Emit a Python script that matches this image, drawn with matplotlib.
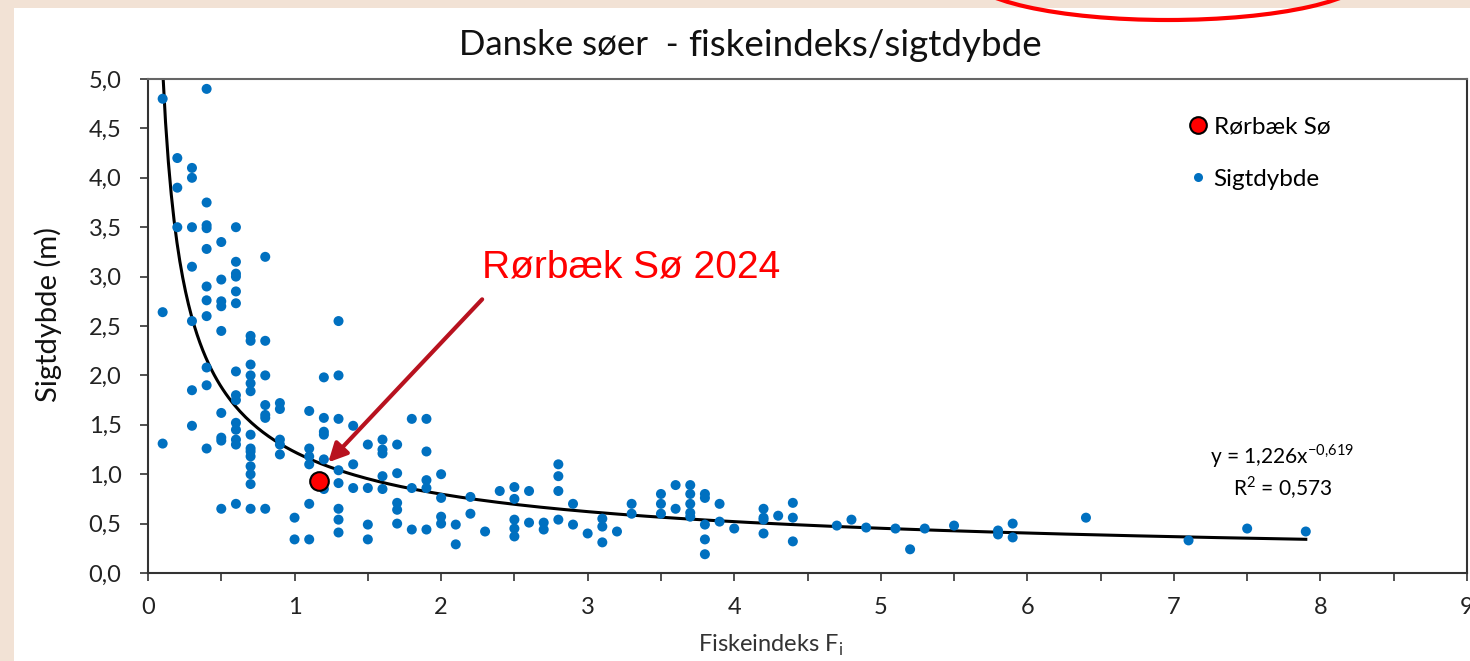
import numpy as np
import matplotlib.pyplot as plt
from matplotlib.patches import Ellipse, Rectangle
from matplotlib.lines import Line2D

# Fiskeindeks (x) og sigtdybde (y) for danske søer
fi_x = ([0.1] * 3 + [0.2] * 3 + [0.3] * 7 + [0.4] * 11 + [0.5] * 9 + [0.6] * 14
        + [0.7] * 14 + [0.8] * 7 + [0.9] * 5 + [1.0] * 2 + [1.1] * 6 + [1.2] * 7
        + [1.3] * 8 + [1.4] * 3 + [1.5] * 4 + [1.6] * 5 + [1.7] * 5 + [1.8] * 3
        + [1.9] * 5 + [2.0] * 4 + [2.1] * 2 + [2.2] * 2 + [2.3] + [2.4] + [2.5] * 5
        + [2.6] * 2 + [2.7] * 2 + [2.8] * 4 + [2.9] * 2 + [3.0] + [3.1] * 3 + [3.2]
        + [3.3] * 2 + [3.5] * 3 + [3.6] * 2 + [3.7] * 5 + [3.8] * 5 + [3.9] * 2
        + [4.0] + [4.2] * 4 + [4.3] + [4.4] * 3 + [4.7] + [4.8] + [4.9] + [5.1]
        + [5.2] + [5.3] + [5.5] + [5.8] * 2 + [5.9] * 2 + [6.4] + [7.1] + [7.5] + [7.9])

sigt_y = [4.8, 2.64, 1.31,
          4.2, 3.9, 3.5,
          4.1, 4.0, 3.5, 3.1, 2.55, 1.85, 1.49,
          4.9, 3.75, 3.52, 3.49, 3.28, 2.9, 2.76, 2.6, 2.08, 1.9, 1.26,
          3.35, 2.97, 2.75, 2.7, 2.45, 1.62, 1.37, 1.34, 0.65,
          3.5, 3.15, 3.03, 3.0, 2.85, 2.73, 2.04, 1.8, 1.75, 1.52, 1.45, 1.35, 1.3, 0.7,
          2.4, 2.35, 2.11, 2.0, 1.92, 1.84, 1.4, 1.26, 1.23, 1.18, 1.08, 1.0, 0.9, 0.65,
          3.2, 2.35, 2.0, 1.7, 1.6, 1.57, 0.65,
          1.72, 1.66, 1.35, 1.3, 1.2,
          0.56, 0.34,
          1.64, 1.26, 1.18, 1.1, 0.7, 0.34,
          1.98, 1.57, 1.43, 1.4, 1.15, 0.91, 0.85,
          2.55, 2.0, 1.56, 1.04, 0.91, 0.65, 0.54, 0.41,
          1.49, 1.1, 0.86,
          1.3, 0.86, 0.49, 0.34,
          1.35, 1.25, 1.21, 0.98, 0.85,
          1.3, 1.01, 0.71, 0.64, 0.5,
          1.56, 0.86, 0.44,
          1.56, 1.23, 0.94, 0.86, 0.44,
          1.0, 0.76, 0.57, 0.5,
          0.49, 0.29,
          0.77, 0.6,
          0.42,
          0.83,
          0.87, 0.75, 0.54, 0.45, 0.37,
          0.83, 0.51,
          0.51, 0.44,
          1.1, 0.98, 0.83, 0.54,
          0.7, 0.49,
          0.4,
          0.55, 0.47, 0.31,
          0.42,
          0.7, 0.6,
          0.8, 0.7, 0.6,
          0.89, 0.65,
          0.89, 0.8, 0.7, 0.61, 0.57,
          0.8, 0.76, 0.49, 0.34, 0.19,
          0.7, 0.52,
          0.45,
          0.65, 0.56, 0.54, 0.4,
          0.58,
          0.71, 0.56, 0.32,
          0.48, 0.54, 0.46, 0.45, 0.24, 0.45, 0.48,
          0.43, 0.39,
          0.5, 0.36,
          0.56, 0.33, 0.45, 0.42]

# Rørbæk Sø 2024
roerbaek_x = [1.17]
roerbaek_y = [0.93]

# Potens-trendlinje y = a * x^b
fit_a = 1.226
fit_b = -0.619
fit_xmin, fit_xmax = 0.1, 7.9

x_ticks = [0, 1, 2, 3, 4, 5, 6, 7, 8, 9]
x_ticklabels = ['0', '1', '2', '3', '4', '5', '6', '7', '8', '9']
y_ticks = [0.0, 0.5, 1.0, 1.5, 2.0, 2.5, 3.0, 3.5, 4.0, 4.5, 5.0]
y_ticklabels = ['0,0', '0,5', '1,0', '1,5', '2,0', '2,5', '3,0', '3,5', '4,0', '4,5', '5,0']

plt.rcParams['font.family'] = ['Lato', 'DejaVu Sans']
W, H = 1470, 661
fig = plt.figure(figsize=(W / 100, H / 100), dpi=100, facecolor='#f2e2d5')

# hvid baggrund bag diagrammet
fig.add_artist(Rectangle((14 / W, 0), 1 - 14 / W, (H - 8) / H, transform=fig.transFigure,
                         facecolor='white', edgecolor='none', zorder=-5))

ax = fig.add_axes([148 / W, 88 / H, 1319 / W, 494 / H])

ax.scatter(fi_x, sigt_y, s=52, color='#0070c0', edgecolors='none', zorder=3, label='Sigtdybde')
ax.scatter(roerbaek_x, roerbaek_y, s=180, color='#ff0000', edgecolors='black', linewidths=1.5,
           zorder=4, label='Rørbæk Sø')

xf = np.linspace(fit_xmin, fit_xmax, 400)
ax.plot(xf, fit_a * xf ** fit_b, color='black', lw=2.2, zorder=2)

ax.set_xlim(0, 9)
ax.set_ylim(0, 5)
ax.set_xticks(x_ticks)
ax.set_xticklabels(x_ticklabels, fontsize=17, color='#222222')
ax.set_xticks(np.arange(0.5, 9, 1.0), minor=True)
ax.set_yticks(y_ticks)
ax.set_yticklabels(y_ticklabels, fontsize=17, color='#222222')
ax.tick_params(axis='both', which='both', direction='out', length=6, width=1.2, color='#333333')
ax.tick_params(axis='x', pad=11)
ax.tick_params(axis='y', pad=13)
for sp in ax.spines.values():
    sp.set_color('#333333')
    sp.set_linewidth(1.5)
ax.spines['top'].set_color('#666666')

# titel i to størrelser
fig.text(679 / W, 1 - 45 / H, 'Danske søer  -', ha='right', va='center', fontsize=25, color='#111111')
fig.text(688 / W, 1 - 45 / H, 'fiskeindeks/sigtdybde', ha='left', va='center', fontsize=26.5, color='#111111')

fig.text(48 / W, 1 - 314 / H, 'Sigtdybde (m)', rotation=90, ha='center', va='center',
         fontsize=21, color='#111111')
fig.text(771 / W, 1 - 645 / H, 'Fiskeindeks F$_\\mathregular{i}$', ha='center', va='center',
         fontsize=17, color='#333333')

# trendlinjens ligning
ax.text(7.74, 1.18, 'y = 1,226x$^{\\mathregular{-0{,}619}}$', ha='center', va='center', fontsize=15)
ax.text(7.74, 0.86, 'R$^{\\mathregular{2}}$ = 0,573', ha='center', va='center', fontsize=15)

# pil og tekst for Rørbæk Sø 2024
ax.annotate('', xy=(1.23, 1.12), xytext=(2.28, 2.77),
            arrowprops=dict(arrowstyle='-|>', color='#b8121f', lw=3, mutation_scale=28,
                            shrinkA=0, shrinkB=0))
ax.text(2.28, 2.99, 'Rørbæk Sø 2024', color='#ff0000', fontsize=28, ha='left', va='baseline',
        family=['Liberation Sans', 'DejaVu Sans'])

handles = [Line2D([], [], ls='none', marker='o', ms=12, mfc='#ff0000', mec='black', mew=1.5),
           Line2D([], [], ls='none', marker='o', ms=6.5, mfc='#0070c0', mec='none')]
ax.legend(handles, ['Rørbæk Sø', 'Sigtdybde'], loc='upper left', bbox_to_anchor=(0.772, 0.969),
          frameon=False, fontsize=17.5, handlelength=0.8, handletextpad=0.25, labelspacing=1.3)

# rød ring i toppen
eb, ea = 45, 200
fig.add_artist(Ellipse((1168 / W, (H + eb - 20) / H), 2 * ea / W, 2 * eb / H, transform=fig.transFigure,
                       fill=False, edgecolor='#ff0000', lw=3, zorder=10))

plt.savefig('out.png', dpi=100, facecolor=fig.get_facecolor())
